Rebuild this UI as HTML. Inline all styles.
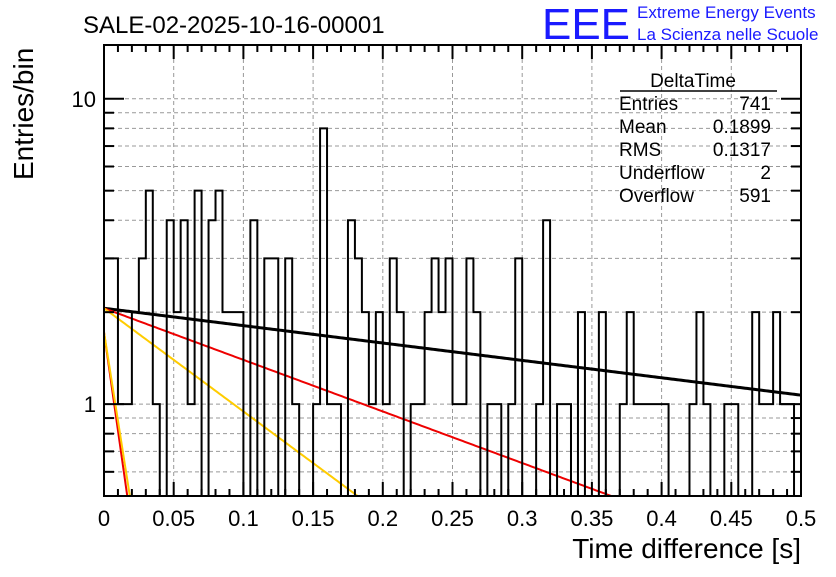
<!DOCTYPE html>
<html><head><meta charset="utf-8"><style>
body{margin:0;background:#fff;width:836px;height:572px;overflow:hidden;font-family:"Liberation Sans",sans-serif}
</style></head><body>
<svg id="c" width="836" height="572" xmlns="http://www.w3.org/2000/svg" style="font-family:'Liberation Sans',sans-serif">
<text x="83" y="33" font-size="24">SALE-02-2025-10-16-00001</text>
<text x="542" y="39" font-size="44" fill="#1a1aff" textLength="88" lengthAdjust="spacingAndGlyphs">EEE</text>
<text x="637" y="18" font-size="17" fill="#1a1aff">Extreme Energy Events</text>
<text x="637" y="40" font-size="17" fill="#1a1aff">La Scienza nelle Scuole</text>
<g id="grid"></g>
<g id="curves"></g>
<path id="hist" fill="none" stroke="#000" stroke-width="2"></path>
<g id="axes"></g>
<text transform="translate(33,180) rotate(-90)" font-size="28">Entries/bin</text>
<text x="801" y="558" font-size="28" text-anchor="end">Time difference [s]</text>
<g font-size="19">
<text x="693" y="87" text-anchor="middle">DeltaTime</text>
<line x1="620" y1="91" x2="777" y2="91" stroke="#000" stroke-width="1.5"/>
<text x="619" y="110">Entries</text><text x="771" y="110" text-anchor="end">741</text>
<text x="619" y="133">Mean</text><text x="771" y="133" text-anchor="end">0.1899</text>
<text x="619" y="156">RMS</text><text x="771" y="156" text-anchor="end">0.1317</text>
<text x="619" y="179">Underflow</text><text x="771" y="179" text-anchor="end">2</text>
<text x="619" y="202">Overflow</text><text x="771" y="202" text-anchor="end">591</text>
</g>
</svg>
<script>
const counts=[3,3,1,1,2,3,5,1,0,4,2,4,1,5,0,4,5,2,2,2,0,4,0,3,3,0,3,1,0,0,1,8,1,1,0,4,3,2,1,2,1,3,2,0,1,1,2,3,2,3,1,1,3,2,0,1,1,0,1,3,0,0,1,4,0,1,1,0,2,0,0,2,0,0,1,2,1,1,1,1,1,0,0,0,1,2,1,0,0,1,1,0,0,2,1,1,2,1,1,0];
const xTicks=[0,0.05,0.1,0.15,0.2,0.25,0.3,0.35,0.4,0.45,0.5];
const xTickLabels=["0","0.05","0.1","0.15","0.2","0.25","0.3","0.35","0.4","0.45","0.5"];
const yMajor=[1,10];
const yMinor=[0.6,0.7,0.8,0.9,2,3,4,5,6,7,8,9];
const fitAmp=[2.06,2.06,2.06,1.72,1.72];
const fitTau=[0.763,0.257,0.1285,0.0135,0.015];
const fitColor=["#000","#e00","#fc0","#e00","#fc0"];
const X0=104,X1=801,Y0=45,Y1=496,XMAX=0.5,YMIN=0.5,YMAX=15;
const sx=v=>X0+(X1-X0)*v/XMAX;
const lr=Math.log10(YMAX)-Math.log10(YMIN);
const sy=v=>v<=0?Y1:Math.min(Y1,Y1-(Y1-Y0)*(Math.log10(v)-Math.log10(YMIN))/lr);
const NS="http://www.w3.org/2000/svg";
function mk(tag,attrs,parent){const e=document.createElementNS(NS,tag);for(const k in attrs)e.setAttribute(k,attrs[k]);parent.appendChild(e);return e;}
const grid=document.getElementById('grid'),axes=document.getElementById('axes'),curves=document.getElementById('curves');
xTicks.forEach((t,i)=>{
 if(i>0&&i<xTicks.length-1){const l=mk('line',{x1:sx(t),x2:sx(t),y1:Y0,y2:Y1,stroke:'#999','stroke-dasharray':'4,3'},grid);
 }
 const tk=mk('line',{x1:sx(t),x2:sx(t),y1:Y1,y2:Y1-14,stroke:'#000','stroke-width':2},axes);
 
 const tk2=mk('line',{x1:sx(t),x2:sx(t),y1:Y0,y2:Y0+14,stroke:'#000','stroke-width':2},axes);
 
 const tx=mk('text',{x:sx(t),y:526,'font-size':22,'text-anchor':'middle'},axes);tx.textContent=xTickLabels[i];
 
});
for(let i=1;i<50;i++){if(i%5===0)continue;const v=i*0.01;
 const a=mk('line',{x1:sx(v),x2:sx(v),y1:Y1,y2:Y1-7,stroke:'#000','stroke-width':2},axes);
 
 const b=mk('line',{x1:sx(v),x2:sx(v),y1:Y0,y2:Y0+7,stroke:'#000','stroke-width':2},axes);
 }
yMajor.concat(yMinor).forEach(v=>{const maj=yMajor.includes(v);
 const g=mk('line',{x1:X0,x2:X1,y1:sy(v),y2:sy(v),stroke:'#999','stroke-dasharray':'4,3'},grid);
 
 const L=maj?20:10;
 const a=mk('line',{x1:X0,x2:X0+L,y1:sy(v),y2:sy(v),stroke:'#000','stroke-width':2},axes);
 
 const b=mk('line',{x1:X1,x2:X1-L,y1:sy(v),y2:sy(v),stroke:'#000','stroke-width':2},axes);
 
 if(maj){const t=mk('text',{x:X0-8,y:sy(v)+8,'font-size':22,'text-anchor':'end'},axes);t.textContent=String(v);
 }
});
const fr=mk('rect',{x:X0,y:Y0,width:X1-X0,height:Y1-Y0,fill:'none',stroke:'#000','stroke-width':2},axes);

const bw=XMAX/counts.length;let d='M'+sx(0)+','+Y1;
counts.forEach((c,i)=>{d+=' L'+sx(i*bw)+','+sy(c)+' L'+sx((i+1)*bw)+','+sy(c);});
d+=' L'+sx(XMAX)+','+Y1;
document.getElementById('hist').setAttribute('d',d);
fitAmp.forEach((A,k)=>{let pts=[];for(let j=0;j<=400;j++){const x=XMAX*j/400;const v=A*Math.exp(-x/fitTau[k]);if(v<YMIN){pts.push(sx(fitTau[k]*Math.log(A/YMIN))+','+Y1);break;}pts.push(sx(x)+','+sy(v));}
 const p=mk('polyline',{points:pts.join(' '),fill:'none',stroke:fitColor[k],'stroke-width':k===0?3:2},curves);
 });
</script>
</body></html>
